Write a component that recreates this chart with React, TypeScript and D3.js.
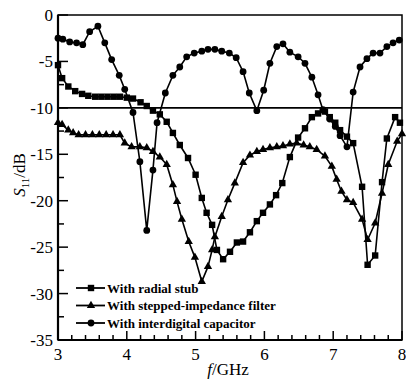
import { useEffect, useRef } from "react"
import * as d3 from "d3"

// frequency (GHz) / S11 (dB)
const stubFreq = [3.0, 3.06, 3.15, 3.25, 3.35, 3.44, 3.54, 3.63, 3.72, 3.81, 3.9, 4.0, 4.09, 4.2, 4.29, 4.38, 4.48, 4.58, 4.67, 4.77, 4.89, 5.0, 5.09, 5.16, 5.24, 5.31, 5.4, 5.5, 5.6, 5.69, 5.79, 5.89, 5.98, 6.08, 6.17, 6.26, 6.37, 6.49, 6.59, 6.69, 6.78, 6.88, 6.95, 7.03, 7.1, 7.2, 7.29, 7.42, 7.5, 7.61, 7.71, 7.78, 7.9, 7.97]
const stubS11 = [-5.4, -6.8, -7.7, -8.2, -8.5, -8.7, -8.8, -8.8, -8.8, -8.8, -8.8, -8.9, -9.0, -9.4, -9.8, -10.3, -10.7, -11.5, -12.7, -14.0, -15.4, -17.2, -19.7, -21.3, -22.6, -25.3, -26.3, -25.5, -24.5, -24.4, -23.4, -22.2, -21.3, -20.4, -19.4, -18.1, -15.3, -13.2, -12.2, -11.0, -10.6, -10.4, -11.0, -11.6, -12.4, -13.1, -13.8, -18.5, -26.9, -25.9, -18.0, -13.3, -11.0, -11.6]

const sifFreq = [3.0, 3.06, 3.15, 3.22, 3.3, 3.4, 3.5, 3.6, 3.7, 3.8, 3.9, 3.97, 4.07, 4.19, 4.29, 4.38, 4.48, 4.58, 4.67, 4.73, 4.8, 4.9, 4.99, 5.09, 5.18, 5.24, 5.28, 5.38, 5.47, 5.57, 5.69, 5.79, 5.89, 5.98, 6.08, 6.18, 6.27, 6.37, 6.47, 6.57, 6.66, 6.76, 6.88, 6.98, 7.05, 7.12, 7.2, 7.29, 7.42, 7.5, 7.61, 7.71, 7.8, 7.93, 8.0]
const sifS11 = [-11.6, -11.8, -12.4, -12.7, -12.9, -12.9, -12.9, -12.9, -12.9, -12.9, -12.9, -13.8, -14.2, -14.2, -14.3, -14.7, -15.3, -16.1, -18.3, -20.1, -22.0, -24.4, -26.1, -28.7, -27.1, -25.3, -23.9, -21.7, -19.9, -18.1, -15.9, -15.1, -14.7, -14.5, -14.3, -14.2, -14.1, -13.9, -13.8, -14.0, -14.2, -14.5, -15.2, -16.3, -17.7, -19.0, -19.9, -20.2, -22.0, -24.2, -22.4, -19.2, -16.1, -13.6, -12.8]

const capFreq = [3.0, 3.07, 3.17, 3.27, 3.36, 3.46, 3.58, 3.68, 3.78, 3.89, 3.97, 4.09, 4.19, 4.29, 4.38, 4.44, 4.56, 4.67, 4.77, 4.87, 4.98, 5.09, 5.18, 5.28, 5.38, 5.49, 5.59, 5.69, 5.78, 5.89, 5.99, 6.08, 6.18, 6.27, 6.37, 6.49, 6.59, 6.69, 6.78, 6.85, 6.95, 7.03, 7.1, 7.2, 7.29, 7.39, 7.49, 7.58, 7.68, 7.78, 7.87, 7.96]
const capS11 = [-2.5, -2.6, -2.9, -3.0, -3.2, -1.8, -1.2, -3.0, -4.8, -6.5, -8.0, -10.5, -15.8, -23.2, -16.7, -11.6, -8.4, -6.5, -5.6, -4.5, -4.1, -3.9, -3.7, -3.7, -3.9, -4.1, -4.6, -6.1, -8.4, -10.3, -8.1, -5.2, -3.4, -3.1, -4.0, -4.5, -5.2, -6.7, -8.6, -10.2, -11.2, -12.0, -13.0, -14.2, -8.3, -5.6, -4.7, -4.1, -4.1, -3.4, -3.0, -2.7]

const legendLabels = ["With radial stub", "With stepped-impedance filter", "With interdigital capacitor"]
const xTicks = [3, 4, 5, 6, 7, 8]
const yTicks = [0, -5, -10, -15, -20, -25, -30, -35]

const App = () => {
  const svgRef = useRef(null)

  useEffect(() => {
    const svg = d3.select(svgRef.current)
    svg.selectAll("*").remove()

    const margin = { top: 15, right: 4, bottom: 39, left: 58 }
    const W = 406
    const H = 379
    const width = W - margin.left - margin.right
    const height = H - margin.top - margin.bottom
    const font = "'Liberation Serif', 'Times New Roman', serif"

    const g = svg.append("g").attr("transform", `translate(${margin.left},${margin.top})`)

    const x = d3.scaleLinear().domain([3, 8]).range([0, width])
    const y = d3.scaleLinear().domain([-35, 0]).range([height, 0])

    // minor ticks (inward)
    d3.range(3, 8.001, 0.2).forEach((v) => {
      const major = Math.abs(v - Math.round(v)) < 1e-6
      g.append("line")
        .attr("x1", x(v)).attr("x2", x(v))
        .attr("y1", height).attr("y2", height - (major ? 9 : 5))
        .attr("stroke", "#000").attr("stroke-width", 1.5)
    })
    d3.range(-35, 0.001, 2.5).forEach((v) => {
      const major = Math.abs(v % 5) < 1e-6
      g.append("line")
        .attr("x1", 0).attr("x2", major ? 10 : 6)
        .attr("y1", y(v)).attr("y2", y(v))
        .attr("stroke", "#000").attr("stroke-width", 1.5)
    })

    // frame
    g.append("rect")
      .attr("width", width).attr("height", height)
      .attr("fill", "none").attr("stroke", "#000").attr("stroke-width", 1.5)
    g.append("line").attr("x1", 0).attr("x2", 0).attr("y1", 0).attr("y2", height)
      .attr("stroke", "#000").attr("stroke-width", 2.2)
    g.append("line").attr("x1", 0).attr("x2", width).attr("y1", height).attr("y2", height)
      .attr("stroke", "#000").attr("stroke-width", 2.2)

    // -10 dB reference line
    g.append("line")
      .attr("x1", 0).attr("x2", width)
      .attr("y1", y(-10)).attr("y2", y(-10))
      .attr("stroke", "#000").attr("stroke-width", 1.8)

    // tick labels
    g.selectAll(".xl").data(xTicks).enter().append("text")
      .attr("x", (d) => x(d)).attr("y", height + 20)
      .attr("text-anchor", "middle")
      .style("font-family", font).style("font-size", "17px")
      .text((d) => d)
    g.selectAll(".yl").data(yTicks).enter().append("text")
      .attr("x", -5).attr("y", (d) => y(d) + 6)
      .attr("text-anchor", "end")
      .style("font-family", font).style("font-size", "17px")
      .text((d) => d)

    // axis titles
    const xt = g.append("text")
      .attr("x", width / 2 - 2).attr("y", height + 35)
      .attr("text-anchor", "middle")
      .style("font-family", font).style("font-size", "17px")
    xt.append("tspan").style("font-style", "italic").text("f")
    xt.append("tspan").text("/GHz")

    const yt = svg.append("text")
      .attr("transform", `translate(25,175) rotate(-90)`)
      .attr("text-anchor", "middle")
      .style("font-family", font).style("font-size", "17px")
    yt.append("tspan").style("font-style", "italic").text("S")
    yt.append("tspan").attr("dy", 4).style("font-size", "11px").text("11")
    yt.append("tspan").attr("dy", -4).text("/dB")

    const line = d3.line().x((d) => x(d[0])).y((d) => y(d[1]))
    const series = [
      { f: stubFreq, s: stubS11, shape: "square" },
      { f: sifFreq, s: sifS11, shape: "triangle" },
      { f: capFreq, s: capS11, shape: "circle" },
    ]

    const drawMarker = (sel, shape, cx, cy) => {
      if (shape === "square") {
        sel.append("rect").attr("x", cx - 3.2).attr("y", cy - 3.2).attr("width", 6.4).attr("height", 6.4).attr("fill", "#000")
      } else if (shape === "triangle") {
        sel.append("path").attr("d", d3.symbol(d3.symbolTriangle, 30)()).attr("transform", `translate(${cx},${cy})`).attr("fill", "#000")
      } else {
        sel.append("circle").attr("cx", cx).attr("cy", cy).attr("r", 3.4).attr("fill", "#000")
      }
    }

    series.forEach((sr) => {
      const pts = sr.f.map((f, i) => [f, sr.s[i]])
      g.append("path").datum(pts).attr("d", line)
        .attr("fill", "none").attr("stroke", "#000").attr("stroke-width", 1.6)
      pts.forEach((p) => drawMarker(g, sr.shape, x(p[0]), y(p[1])))
    })

    // legend
    const lg = svg.append("g")
    legendLabels.forEach((label, i) => {
      const ly = 288 + i * 17.5
      lg.append("line").attr("x1", 76).attr("x2", 105).attr("y1", ly).attr("y2", ly)
        .attr("stroke", "#000").attr("stroke-width", 1.8)
      drawMarker(lg, series[i].shape, 91, ly)
      lg.append("text").attr("x", 107).attr("y", ly + 4.5)
        .style("font-family", font).style("font-size", "13px").style("font-weight", "bold")
        .text(label)
    })
  }, [])

  return (
    <svg
      ref={svgRef}
      width={406}
      height={379}
      style={{ position: "absolute", left: 0, top: 0, background: "#fff" }}
    ></svg>
  )
}

export default App
